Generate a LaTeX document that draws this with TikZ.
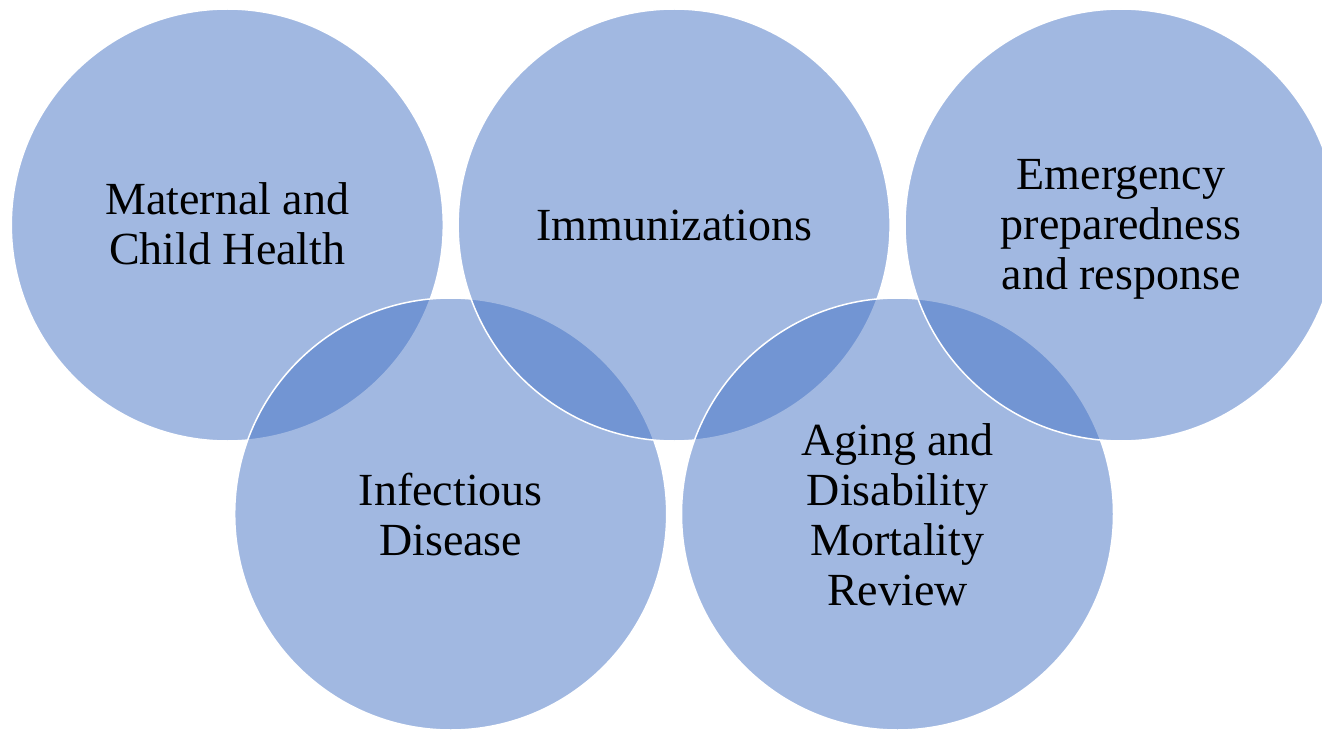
\documentclass[tikz,border=0pt]{standalone}
\usepackage{fontspec}
\setmainfont{Liberation Serif}
\definecolor{accent}{HTML}{4472C4}
\begin{document}
\begin{tikzpicture}[x=1pt,y=-1pt,
  bub/.style={circle, minimum size=432pt, inner sep=0pt, outer sep=0pt,
    fill=accent, fill opacity=0.5, draw=white, draw opacity=1, line width=1.5pt},
  lbl/.style={align=center, text=black, inner sep=0pt,
    font=\fontsize{46}{50}\selectfont}]
\useasboundingbox (0,0) rectangle (1322,730);
\node[bub] (mat) at (227.3,225) {};
\node[bub] (inf) at (450.7,514) {};
\node[bub] (imm) at (674.1,225) {};
\node[bub] (agi) at (897.5,514) {};
\node[bub] (eme) at (1121,225) {};
\node[lbl] (tmat) at ([yshift=1pt]mat.center) {Maternal and\\Child Health};
\node[lbl] (timm) at (imm.center) {Immunizations};
\node[lbl] (teme) at ([yshift=-4.5pt]eme.center) {Emergency\\preparedness\\and response};
\node[lbl] (tinf) at ([yshift=-0.5pt]inf.center) {Infectious\\Disease};
\node[lbl] (tagi) at ([yshift=-1pt]agi.center) {Aging and\\Disability\\Mortality\\Review};
\end{tikzpicture}
\end{document}
